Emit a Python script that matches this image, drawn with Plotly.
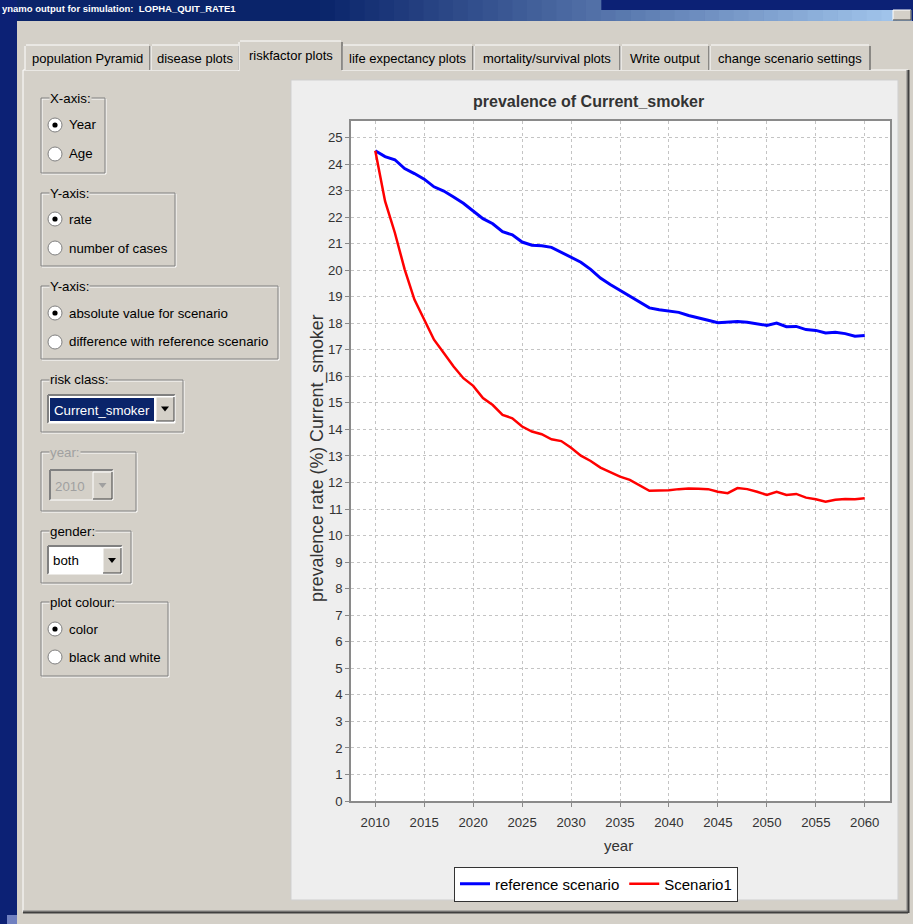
import plotly.graph_objects as go

# ---------------- data ----------------
years = list(range(2010, 2061))
reference_scenario = [24.5, 24.28, 24.16, 23.83, 23.64, 23.43, 23.14, 22.98, 22.76, 22.52,
                      22.23, 21.94, 21.75, 21.45, 21.33, 21.06, 20.94, 20.92, 20.86, 20.68,
                      20.47, 20.30, 20.03, 19.70, 19.46, 19.24, 19.02, 18.77, 18.58, 18.51,
                      18.45, 18.41, 18.29, 18.19, 18.11, 18.02, 18.04, 18.07, 18.04, 17.98,
                      17.92, 18.01, 17.87, 17.88, 17.76, 17.73, 17.63, 17.66, 17.61, 17.51,
                      17.54]
scenario1 = [24.5, 22.6, 21.41, 20.03, 18.89, 18.14, 17.38, 16.88, 16.37, 15.93,
             15.64, 15.18, 14.92, 14.55, 14.42, 14.11, 13.92, 13.82, 13.63, 13.56,
             13.31, 13.01, 12.81, 12.56, 12.38, 12.22, 12.10, 11.89, 11.69, 11.70,
             11.71, 11.75, 11.77, 11.76, 11.75, 11.65, 11.60, 11.79, 11.75, 11.65,
             11.53, 11.65, 11.53, 11.57, 11.43, 11.37, 11.28, 11.35, 11.38, 11.37,
             11.41]
x_tick_vals = list(range(2010, 2061, 5))
y_tick_vals = list(range(0, 26))

tab_labels = ["population Pyramid", "disease plots", "riskfactor plots", "life expectancy plots",
              "mortality/survival plots", "Write output", "change scenario settings"]

# ---------------- helpers ----------------
W, H = 913, 924
FONT = "Liberation Sans, Arial, sans-serif"
GRAY = "#d4d0c8"
NAVY = "#0c2175"
GUI = 13.3

shapes = []
annotations = []


def fx(x):
    return x / W


def fy(y):
    return 1 - y / H


def R(x0, y0, x1, y1, fill=None, line=None, lw=1, layer="below"):
    d = dict(type="rect", xref="paper", yref="paper",
             x0=fx(x0), x1=fx(x1), y0=fy(y1), y1=fy(y0), layer=layer,
             line=dict(width=lw if line else 0, color=line if line else "rgba(0,0,0,0)"))
    if fill:
        d["fillcolor"] = fill
    shapes.append(d)


def L(x0, y0, x1, y1, color, lw=1, layer="below"):
    shapes.append(dict(type="line", xref="paper", yref="paper",
                       x0=fx(x0), x1=fx(x1), y0=fy(y0), y1=fy(y1), layer=layer,
                       line=dict(color=color, width=lw)))


def C(cx, cy, r, fill, line=None):
    shapes.append(dict(type="circle", xref="paper", yref="paper",
                       x0=fx(cx - r), x1=fx(cx + r), y0=fy(cy + r), y1=fy(cy - r), layer="below",
                       fillcolor=fill,
                       line=dict(width=1 if line else 0, color=line if line else "rgba(0,0,0,0)")))


def TRI(cx, cy, w, h, color):
    p = "M %f %f L %f %f L %f %f Z" % (fx(cx - w / 2), fy(cy - h / 2), fx(cx + w / 2), fy(cy - h / 2),
                                       fx(cx), fy(cy + h / 2))
    shapes.append(dict(type="path", xref="paper", yref="paper", path=p, layer="below",
                       fillcolor=color, line=dict(width=0)))


def T(x, y, text, size=GUI, color="#000000", anchor="left", bg=None, angle=0):
    a = dict(x=fx(x), y=fy(y), xref="paper", yref="paper", text=text, showarrow=False,
             xanchor=anchor, yanchor="middle", textangle=angle,
             font=dict(family=FONT, size=size, color=color))
    if bg:
        a["bgcolor"] = bg
        a["borderpad"] = 0
    annotations.append(a)


def raised(x0, y0, x1, y1):
    R(x0, y0, x1, y1, fill=GRAY)
    L(x0, y0, x1, y0, "#ffffff")
    L(x0, y0, x0, y1, "#ffffff")
    L(x1, y0, x1, y1, "#404040")
    L(x0, y1, x1, y1, "#404040")


def sunken(x0, y0, x1, y1, fill):
    R(x0, y0, x1, y1, fill=fill)
    L(x0, y0, x1, y0, "#808080", 2)
    L(x0, y0, x0, y1, "#808080", 2)
    L(x1, y0, x1, y1, "#ffffff")
    L(x0, y1, x1, y1, "#ffffff")


def group(x0, y0, x1, y1, label, color="#000000"):
    R(x0 + 1, y0 + 1, x1 + 1, y1 + 1, line="#ffffff")
    R(x0, y0, x1, y1, line="#808080")
    T(x0 + 8, y0, label, GUI, color, bg=GRAY)


def radio(cy, label, selected):
    C(55, cy, 7, "#ffffff", "#808080")
    if selected:
        C(55, cy, 2.6, "#000000")
    T(67, cy, label)


# ---------------- window chrome ----------------
R(17, 0, 320, 21, fill="#0a246a")
n = 40
for i in range(n):
    x0 = 320 + (911 - 320) * i / n
    x1 = 320 + (911 - 320) * (i + 1) / n + 0.6
    t = (i + 0.5) / n
    c = (int(10 + (166 - 10) * t), int(36 + (202 - 36) * t), int(106 + (240 - 106) * t))
    R(x0, 10 if x0 > 600 else 0, x1, 21, fill="rgb(%d,%d,%d)" % c)
raised(893, 10, 911, 20)
T(0, 8, "<b>ynamo output for simulation:  LOPHA_QUIT_RATE1</b>", 9.5, "#ffffff")

R(17, 21, 913, 924, fill=GRAY)
R(7, 915, 17, 924, fill="#7080c0")

# tab panel
R(23, 70, 908, 912, fill=GRAY)
L(23, 70, 908, 70, "#ffffff")
L(23, 70, 23, 912, "#ffffff")
L(907, 70, 907, 911, "#808080")
L(908.5, 70, 908.5, 913, "#404040", 2)
L(23, 911, 908, 911, "#808080")
L(23, 912.5, 908, 912.5, "#404040", 2)

# tabs
tab_bounds = [(25, 150), (151, 239), (240, 341), (342, 473), (474, 620), (621, 709), (710, 870)]
selected_tab = 2
for i, (a, b) in enumerate(tab_bounds):
    if i == selected_tab:
        continue
    R(a, 45, b, 70, fill=GRAY)
    L(a, 46, a, 70, "#ffffff")
    L(a + 1, 45, b - 1, 45, "#ffffff")
    L(b, 46, b, 70, "#404040")
    T((a + b) / 2, 58, tab_labels[i], 13, anchor="center")
a, b = tab_bounds[selected_tab]
R(a - 1, 41, b + 1, 71, fill=GRAY)
L(a - 1, 42, a - 1, 71, "#ffffff")
L(a, 41, b, 41, "#ffffff")
L(b + 1, 42, b + 1, 70, "#404040")
T((a + b) / 2, 55, tab_labels[selected_tab], 13, anchor="center")

# ---------------- left control panel ----------------
group(41, 98, 105, 173, "X-axis:")
radio(125, "Year", True)
radio(154, "Age", False)

group(41, 193, 175, 266, "Y-axis:")
radio(219, "rate", True)
radio(248, "number of cases", False)

group(41, 286, 278, 359, "Y-axis:")
radio(313, "absolute value for scenario", True)
radio(342, "difference with reference scenario", False)

group(41, 380, 183, 432, "risk class:")
sunken(48, 395, 175, 423, "#ffffff")
R(50, 398, 154, 421, fill="#0a246a")
T(52, 410, "Current_smoker", GUI, "#ffffff")
raised(156, 397, 174, 421)
TRI(165, 409, 8, 5, "#000000")

group(41, 452, 136, 511, "year:", "#a0a0a0")
sunken(50, 470, 113, 500, GRAY)
T(53, 486, "2010", GUI, "#a0a0a0")
raised(93, 472, 112, 499)
TRI(102.5, 485.5, 8, 5, "#a0a0a0")

group(41, 531, 131, 583, "gender:")
sunken(48, 546, 122, 574, "#ffffff")
T(51, 560, "both")
raised(103, 548, 121, 573)
TRI(112, 560.5, 8, 5, "#000000")

group(41, 602, 168, 676, "plot colour:")
radio(629, "color", True)
radio(657, "black and white", False)

# ---------------- chart panel ----------------
R(291, 80, 898, 900, fill="#eeeeee", line="#cfcfcf")
R(351, 121, 890, 801, fill="#ffffff")

T(588, 102, "<b>prevalence of Current_smoker</b>", 16, "#333333", anchor="center")
T(317, 458, "prevalence rate (%) Current_smoker", 17.8, "#333333", anchor="center", angle=-90)
T(618, 845, "year", 15, "#333333", anchor="center")

# ---------------- traces ----------------
fig = go.Figure()
fig.add_trace(go.Scatter(x=years, y=reference_scenario, mode="lines", name="reference scenario",
                         line=dict(color="#0000ff", width=3)))
fig.add_trace(go.Scatter(x=years, y=scenario1, mode="lines", name="Scenario1",
                         line=dict(color="#ff0000", width=2.5)))

axis_common = dict(ticks="outside", ticklen=4, tickcolor="#888888",
                   tickfont=dict(family=FONT, size=13.2, color="#333333"),
                   showgrid=True, gridcolor="#c4c4c4", griddash="dot", gridwidth=1,
                   zeroline=False, showline=True, linecolor="#8a8a8a", linewidth=1.5, mirror=True)

fig.update_layout(
    width=W, height=H,
    margin=dict(l=0, r=0, t=0, b=0, autoexpand=False),
    paper_bgcolor=NAVY,
    plot_bgcolor="#ffffff",
    shapes=shapes,
    annotations=annotations,
    showlegend=True,
    legend=dict(x=fx(596), y=fy(884), xanchor="center", yanchor="middle", orientation="h",
                bgcolor="#ffffff", bordercolor="#333333", borderwidth=1,
                font=dict(family=FONT, size=15, color="#000000"),
                itemwidth=30, tracegroupgap=0),
    xaxis=dict(domain=[fx(351), fx(890)], range=[2007.52, 2062.58],
               tickvals=x_tick_vals, ticktext=[str(v) for v in x_tick_vals],
               ticklabelstandoff=4, **axis_common),
    yaxis=dict(domain=[fy(801), fy(121)], range=[0, 25.62],
               tickvals=y_tick_vals, ticktext=[str(v) for v in y_tick_vals],
               **axis_common),
)

fig.write_html("out.html", config={"displayModeBar": False},
               post_script="document.body.style.margin='0';document.body.style.overflow='hidden';")
